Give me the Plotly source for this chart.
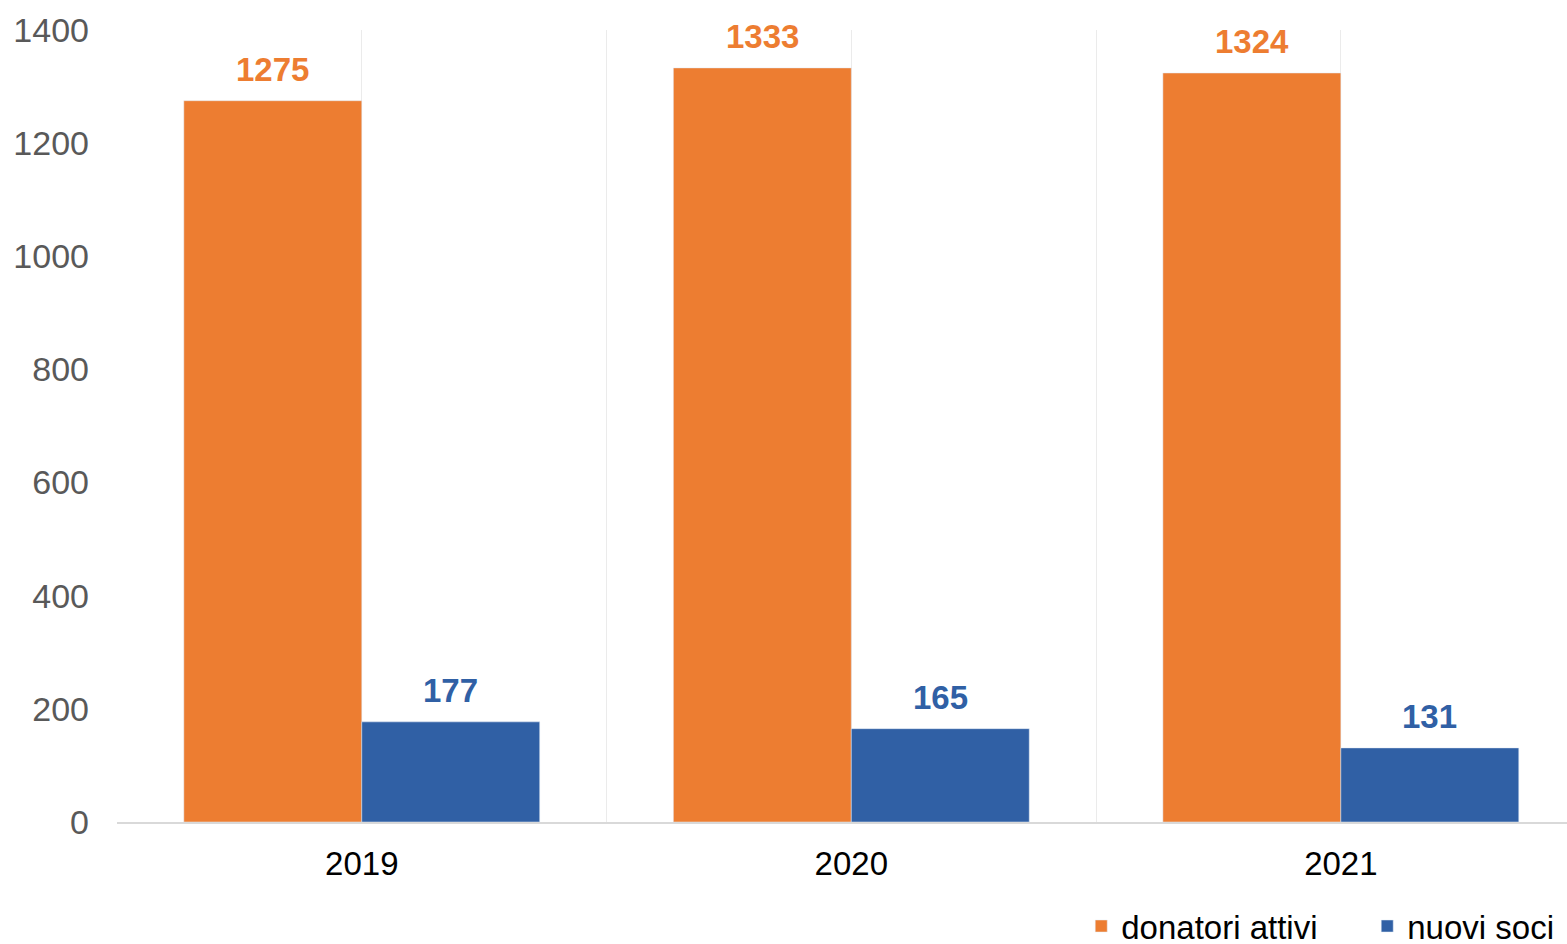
import plotly.graph_objects as go

anni = ['2019', '2020', '2021']
donatori_attivi = [1275, 1333, 1324]
nuovi_soci = [177, 165, 131]

ARANCIO = '#ED7D31'
BLU = '#3060A5'
FONT = 'Arial, Liberation Sans, sans-serif'
BARGAP = 0.273

x_idx = list(range(len(anni)))

fig = go.Figure()
fig.add_bar(x=x_idx, y=donatori_attivi, name='donatori attivi', marker_color=ARANCIO)
fig.add_bar(x=x_idx, y=nuovi_soci, name='nuovi soci', marker_color=BLU)

# etichette sopra le barre
off = (1 - BARGAP) / 4
for serie, col, sgn in [(donatori_attivi, ARANCIO, -1), (nuovi_soci, BLU, 1)]:
    for i, v in enumerate(serie):
        fig.add_annotation(
            x=i + sgn * off, y=v, text=f'<b>{v}</b>',
            showarrow=False, yanchor='bottom', yshift=11,
            font=dict(size=33, color=col, family=FONT)
        )

fig.update_layout(
    barmode='group',
    bargap=BARGAP,
    bargroupgap=0,
    width=1567, height=944,
    margin=dict(l=117, r=0, t=30, b=122),
    paper_bgcolor='white',
    plot_bgcolor='white',
    font=dict(family=FONT, size=33, color='black'),
    legend=dict(
        orientation='h',
        xref='container', yref='container',
        x=0.69, xanchor='left', y=0.019, yanchor='middle',
        font=dict(size=33, color='black'),
        entrywidth=241, entrywidthmode='pixels',
    ),
    xaxis=dict(
        # l'originale è tagliato a destra: l'ultima categoria esce dal bordo
        range=[-0.5, 2.462],
        tickmode='array', tickvals=x_idx, ticktext=anni,
        showgrid=True, gridcolor='#EBEBEB', gridwidth=1,
        minor=dict(tickmode='array', tickvals=[-0.5, 0.5, 1.5],
                   showgrid=True, gridcolor='#EBEBEB', gridwidth=1),
        showline=True, linecolor='#D9D9D9', linewidth=2,
        zeroline=False, ticks='',
        tickfont=dict(size=33, color='black'),
        ticklabelstandoff=11,
    ),
    yaxis=dict(
        range=[0, 1400], dtick=200,
        showgrid=False, zeroline=False, showline=False,
        ticks='',
        tickfont=dict(size=34, color='#595959'),
        ticklabelstandoff=27,
    ),
)

# niente margine del body, così la figura occupa esattamente la finestra
fig.write_html('out.html', config={'displayModeBar': False},
               post_script="document.body.style.margin='0';")
